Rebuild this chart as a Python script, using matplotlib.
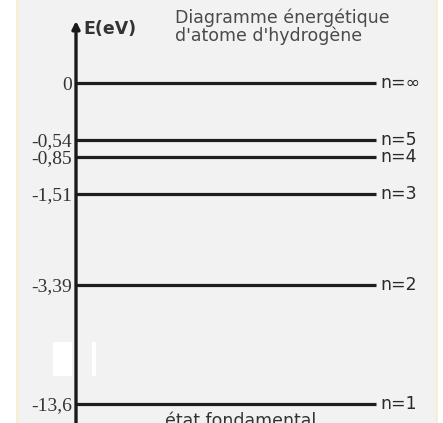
import numpy as np
import matplotlib
matplotlib.use("Agg")
import matplotlib.pyplot as plt
from matplotlib.patches import Rectangle

# ---- data ----
energies = [0.0, -0.54, -0.85, -1.51, -3.39, -13.6]
tick_labels = ["0", "-0,54", "-0,85", "-1,51", "-3,39", "-13,6"]
level_labels = ["n=\u221e", "n=5", "n=4", "n=3", "n=2", "n=1"]
title_lines = ["Diagramme énergétique", "d'atome d'hydrogène"]
axis_label = "E(eV)"
ground_label = "état fondamental"

W, H = 443, 423
fig = plt.figure(figsize=(W / 100, H / 100), dpi=100)
fig.patch.set_facecolor("white")

# background panel
fig.patches.append(Rectangle((16.5 / W, -0.05), (437 - 16.5) / W, 1.1,
                             transform=fig.transFigure, facecolor="#f2f2f2",
                             edgecolor="#fbecc8", lw=1.2, zorder=-2))
for (x0, x1) in [(53, 72), (92, 96)]:
    fig.patches.append(Rectangle((x0 / W, 1 - 376 / H), (x1 - x0) / W, 34 / H,
                                 transform=fig.transFigure, facecolor="white",
                                 edgecolor="none", zorder=-1))

ax = fig.add_axes([0, 0, 1, 1])
ax.set_facecolor("none")
ax.set_zorder(1)

# schematic (non-linear) energy scale: pixel heights from bottom for sorted levels
_E = np.array(sorted(energies), float)
_P = np.array([19, 138, 229, 266, 283, 340], float)
_lo = (_P[1] - _P[0]) / (_E[1] - _E[0])
_hi = (_P[-1] - _P[-2]) / (_E[-1] - _E[-2])


def fwd(e):
    e = np.asarray(e, float)
    out = np.interp(e, _E, _P)
    out = np.where(e < _E[0], _P[0] + (e - _E[0]) * _lo, out)
    out = np.where(e > _E[-1], _P[-1] + (e - _E[-1]) * _hi, out)
    return out


def inv(p):
    p = np.asarray(p, float)
    out = np.interp(p, _P, _E)
    out = np.where(p < _P[0], _E[0] + (p - _P[0]) / _lo, out)
    out = np.where(p > _P[-1], _E[-1] + (p - _P[-1]) / _hi, out)
    return out


ax.set_yscale("function", functions=(fwd, inv))
ax.set_xlim(0, W)
ax.set_ylim(float(inv(0)), float(inv(H)))

for s in ax.spines.values():
    s.set_visible(False)
ax.spines["left"].set_position(("data", 76))
ax.set_xticks([])
ax.set_yticks(energies)
ax.set_yticklabels(tick_labels, family="Liberation Serif")
ax.yaxis.set_minor_locator(matplotlib.ticker.NullLocator())
ax.tick_params(axis="y", length=0, pad=3, labelsize=14, labelcolor="#333333")

# energy axis with arrow
ax.annotate("", xy=(76, float(inv(H - 21))), xytext=(76, float(inv(-5))),
            arrowprops=dict(arrowstyle="-|>", lw=2.4, color="#1a1a1a",
                            mutation_scale=11, shrinkA=0, shrinkB=0),
            annotation_clip=False)

# energy levels
ax.hlines(energies, 76, 376, colors="#1e1e1e", lw=2.3)
for e, lab in zip(energies, level_labels):
    ax.text(380, e, lab, va="center", ha="left", fontsize=12.5,
            color="#2a2a2a", family="DejaVu Sans")

fig.text(83 / W, 1 - 29 / H, axis_label, fontsize=12.5, fontweight="bold",
         color="#333333", va="center", ha="left")
fig.text(175 / W, 1 - 18 / H, title_lines[0], fontsize=12.5, color="#4a4a4a",
         va="center", ha="left")
fig.text(175 / W, 1 - 36 / H, title_lines[1], fontsize=12.5, color="#4a4a4a",
         va="center", ha="left")
fig.text(165 / W, 1 - 412 / H, ground_label, fontsize=12.5, color="#333333",
         va="top", ha="left")

fig.savefig("out.png", dpi=100)
